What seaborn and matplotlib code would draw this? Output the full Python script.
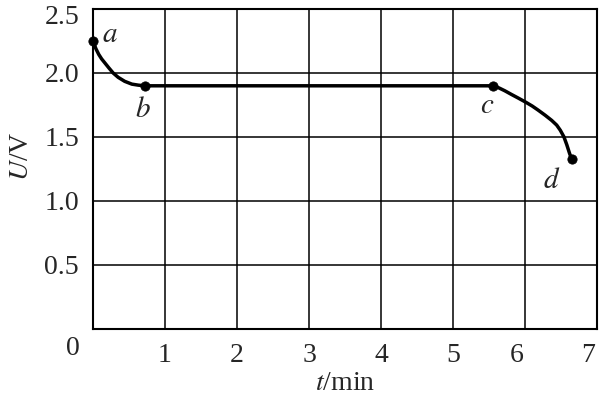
import matplotlib
matplotlib.use("Agg")
import matplotlib.pyplot as plt
import matplotlib.transforms as mtransforms
import seaborn as sns
import pandas as pd

# t in min, U in V
t_ab = [0, 0.04, 0.08, 0.12, 0.17, 0.22, 0.28, 0.35, 0.44, 0.54, 0.63, 0.72]
u_ab = [2.25, 2.19, 2.145, 2.11, 2.075, 2.04, 2.00, 1.966, 1.935, 1.913, 1.905, 1.90]
t_bc = [0.72, 5.56]
u_bc = [1.90, 1.90]
t_cd = [5.56, 5.64, 5.72, 5.81, 5.91, 6.01, 6.10, 6.18, 6.28, 6.37, 6.44, 6.49, 6.54, 6.58, 6.62, 6.65]
u_cd = [1.90, 1.883, 1.861, 1.833, 1.803, 1.772, 1.742, 1.711, 1.670, 1.630, 1.593, 1.553, 1.502, 1.44, 1.37, 1.325]

point_names = ['a', 'b', 'c', 'd']
point_t = [0, 0.72, 5.56, 6.65]
point_u = [2.25, 1.90, 1.90, 1.325]
label_pos = [(0.24, 2.30), (0.69, 1.71), (5.47, 1.74), (6.37, 1.16)]

x_ticks = [1, 2, 3, 4, 5, 6, 7]
y_ticks = [0.5, 1.0, 1.5, 2.0, 2.5]

sns.set_style("white")
plt.rcParams['font.family'] = ['Liberation Serif', 'DejaVu Serif']
plt.rcParams['mathtext.fontset'] = 'stix'

curve = pd.DataFrame({'t': t_ab + t_bc[1:] + t_cd[1:],
                      'U': u_ab + u_bc[1:] + u_cd[1:]})
pts = pd.DataFrame({'t': point_t, 'U': point_u})

fig = plt.figure(figsize=(5.99, 4.01), dpi=100)
ax = fig.add_axes([93/599, 1-329/401, 504/599, 320/401])

ax.grid(True, color='black', lw=1.1)
ax.set_axisbelow(True)

sns.lineplot(data=curve, x='t', y='U', sort=False, estimator=None,
             color='black', lw=2.5, ax=ax)
sns.scatterplot(data=pts, x='t', y='U', color='black', s=45,
                edgecolor='black', zorder=5, clip_on=False, ax=ax)

for name, (lx, ly) in zip(point_names, label_pos):
    ax.text(lx, ly, '$' + name + '$', fontsize=21, ha='center', va='center')

ax.set_xlim(0, 7)
ax.set_ylim(0, 2.5)
ax.set_xticks([0] + x_ticks)
ax.set_xticklabels([''] + [str(v) for v in x_ticks])
ax.set_yticks([0] + y_ticks)
ax.set_yticklabels([''] + ['%.1f' % v for v in y_ticks])
ax.tick_params(length=0, labelsize=20, pad=10)
ax.text(-0.28, -0.15, '0', fontsize=20, ha='center', va='center', clip_on=False)

# small nudges like the original typesetting
def nudge(label, dx, dy):
    off = mtransforms.ScaledTranslation(dx/100, dy/100, fig.dpi_scale_trans)
    label.set_transform(label.get_transform() + off)

xl = ax.get_xticklabels()
nudge(xl[6], -8, 0)
nudge(xl[7], -9, 0)
nudge(ax.get_yticklabels()[5], 0, -5)

for s in ax.spines.values():
    s.set_color('black')
    s.set_linewidth(1.5)

ax.set_xlabel(r'$t$/min', fontsize=20, labelpad=2)
ax.set_ylabel(r'$U$/V', fontsize=20)
ax.yaxis.set_label_coords(-0.118, 0.54)

fig.savefig('out.png', dpi=100)
